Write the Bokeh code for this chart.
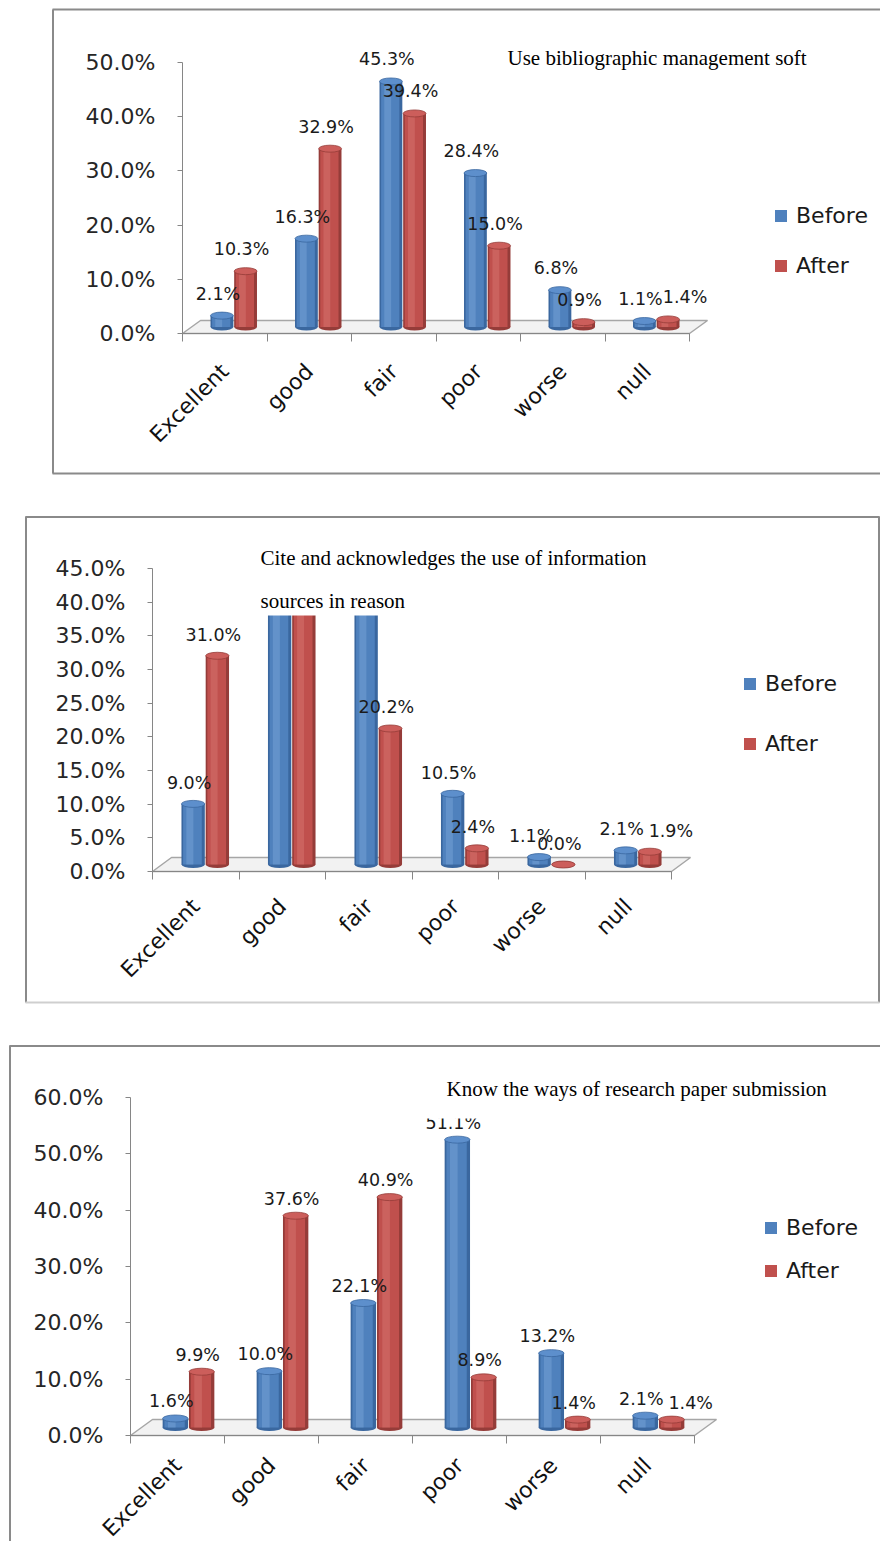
import math
from bokeh.plotting import figure
from bokeh.models import (Range1d, LinearAxis, FixedTicker, PrintfTickFormatter,
                          Legend, LegendItem, ColumnDataSource)
from bokeh.layouts import column
from bokeh.embed import file_html
from bokeh.resources import INLINE
from bokeh.core.properties import value

# ---------------- data ----------------
categories = ["Excellent", "good", "fair", "poor", "worse", "null"]
series_names = ["Before", "After"]

title1 = ["Use bibliographic management soft"]
before1 = [2.1, 16.3, 45.3, 28.4, 6.8, 1.1]
after1 = [10.3, 32.9, 39.4, 15.0, 0.9, 1.4]
yticks1 = [0, 10, 20, 30, 40, 50]

title2 = ["Cite and acknowledges the use of information", "sources in reason"]
before2 = [9.0, 39.2, 38.1, 10.5, 1.1, 2.1]
after2 = [31.0, 44.5, 20.2, 2.4, 0.0, 1.9]
yticks2 = [0, 5, 10, 15, 20, 25, 30, 35, 40, 45]

title3 = ["Know the ways of research paper submission"]
before3 = [1.6, 10.0, 22.1, 51.1, 13.2, 2.1]
after3 = [9.9, 37.6, 40.9, 8.9, 1.4, 1.4]
yticks3 = [0, 10, 20, 30, 40, 50, 60]

# ---------------- styling / layout ----------------
W = 880
BLUE = dict(dark="#3a679f", main="#4f81bd", light="#75a0d6", cap="#5d8fcc")
RED = dict(dark="#953c39", main="#c0504d", light="#d4716e", cap="#cc5e5b")
GREY = "#8a8a8a"
FONT = "DejaVu Sans"

G1 = dict(cv_top=0, cv_h=500, ax_x=182, y0=333, sy=5.42, cw=84.5, dx=18, dy=13,
          borders=[((52.5, 9), (52.5, 473), GREY), ((52, 9), (880, 9), GREY),
                   ((52, 473), (880, 473), GREY)],
          title_x=507, title_ys=[57], title_box=None, leg_x=773, leg_ys=[215, 265],
          lab_dy=22, xstand=26, nudge={(1, 5): 21})
G2 = dict(cv_top=500, cv_h=530, ax_x=152, y0=871, sy=6.733, cw=86.5, dx=19, dy=14,
          borders=[((25.5, 516), (25.5, 1002), GREY), ((25, 516.5), (879, 516.5), GREY),
                   ((878.5, 516), (878.5, 1002), GREY), ((25, 1002), (879, 1002), "#cfcfcf")],
          title_x=260, title_ys=[557, 600], title_box=(245, 528, 690, 615),
          leg_x=742, leg_ys=[683, 743], lab_dy=21, xstand=23,
          nudge={(1, 5): 25, (0, 4): -4})
G3 = dict(cv_top=1030, cv_h=511, ax_x=130, y0=1435, sy=5.633, cw=94, dx=22, dy=16,
          borders=[((9.5, 1045), (9.5, 1541), GREY), ((9, 1045.5), (880, 1045.5), GREY)],
          title_x=446, title_ys=[1088], title_box=(418, 1060, 850, 1118),
          leg_x=763, leg_ys=[1227, 1270], lab_dy=17, xstand=18, nudge={(1, 5): 23})


def build(g, before, after, yticks, title_lines):
    top_px = g["cv_top"]
    bot_px = g["cv_top"] + g["cv_h"]

    def X(px):
        return (px - g["ax_x"]) / g["cw"] - 0.5

    def Y(py):
        return (g["y0"] - py) / g["sy"]

    p = figure(width=W, height=g["cv_h"], x_range=Range1d(X(0), X(W)),
               y_range=Range1d(Y(bot_px), Y(top_px)), x_axis_type=None, y_axis_type=None,
               toolbar_location=None, output_backend="svg", min_border=0,
               outline_line_color=None, background_fill_color="white",
               border_fill_color="white")

    n = len(categories)
    ddx = g["dx"] / g["cw"]
    ddy = g["dy"] / g["sy"]

    # floor (3D base)
    p.patch([-0.5, n - 0.5, n - 0.5 + ddx, -0.5 + ddx], [0, 0, ddy, ddy],
            fill_color="#f2f2f2", line_color="#a6a6a6", line_width=1.5)

    bw = 0.27
    base = ddy / 2
    main_renderers = []
    label_sources = []
    for si, (vals, off, cols) in enumerate([(before, -0.14, BLUE), (after, 0.14, RED)]):
        xs = [i + off + ddx / 2 for i in range(n)]
        tops = [v + base for v in vals]
        src = ColumnDataSource(dict(
            x=xs, top=tops,
            xm=[x - 0.03 * bw for x in xs],
            xh=[x - 0.14 * bw for x in xs],
            lx=[x + (g["nudge"].get((si, i), 0) - 4) / g["cw"] for i, x in enumerate(xs)],
            ly=[t + g["lab_dy"] / g["sy"] for t in tops],
            lab=[f"{v:.1f}%" for v in vals]))
        p.ellipse(x="x", y=base, width=bw, height=7, height_units="screen", source=src,
                  fill_color=cols["dark"], line_color=None)
        p.vbar(x="x", top="top", bottom=base, width=bw, source=src,
               fill_color=cols["dark"], line_color=None)
        r = p.vbar(x="xm", top="top", bottom=base, width=0.8 * bw, source=src,
                   fill_color=cols["main"], line_color=None)
        p.vbar(x="xh", top="top", bottom=base, width=0.3 * bw, source=src,
               fill_color=cols["light"], fill_alpha=0.55, line_color=None)
        p.ellipse(x="x", y="top", width=bw, height=7, height_units="screen", source=src,
                  fill_color=cols["cap"], line_color=cols["dark"], line_width=0.8)
        main_renderers.append(r)
        label_sources.append(src)

    for src in label_sources:
        p.text(x="lx", y="ly", text="lab", source=src, text_font=value(FONT),
               text_font_size="17.5px", text_align="center", text_baseline="middle",
               text_color="#1a1a1a")

    # white title box (covers what is behind the title, as in the original)
    if g["title_box"] is not None:
        l, t, r_, b = g["title_box"]
        p.quad(left=X(l), right=X(r_), top=Y(t), bottom=Y(b), fill_color="white",
               line_color=None)
    p.text(x=[X(g["title_x"])] * len(title_lines), y=[Y(ty) for ty in g["title_ys"]],
           text=title_lines, text_font=value("Liberation Serif"), text_font_size="21px",
           text_align="left", text_baseline="middle", text_color="black")

    # panel frame lines
    for (a, b, c) in g["borders"]:
        p.segment(x0=X(a[0]), y0=Y(a[1]), x1=X(b[0]), y1=Y(b[1]), line_color=c,
                  line_width=2)

    # axes
    yaxis = LinearAxis(fixed_location=-0.5, bounds=(yticks[0], yticks[-1]),
                       ticker=FixedTicker(ticks=yticks, minor_ticks=[]),
                       formatter=PrintfTickFormatter(format="%.1f%%"))
    yaxis.axis_line_color = "#868686"
    yaxis.major_tick_line_color = "#868686"
    yaxis.major_tick_out = 5
    yaxis.major_tick_in = 0
    yaxis.minor_tick_out = 0
    yaxis.minor_tick_in = 0
    yaxis.major_label_standoff = 22
    yaxis.major_label_text_font = FONT
    yaxis.major_label_text_font_size = "22px"
    yaxis.major_label_text_color = "#262626"
    p.add_layout(yaxis, "left")

    xaxis = LinearAxis(fixed_location=0, bounds=(-0.5, n - 0.5),
                       ticker=FixedTicker(ticks=list(range(n)),
                                          minor_ticks=[i - 0.5 for i in range(n + 1)]),
                       major_label_overrides={i: c for i, c in enumerate(categories)})
    xaxis.axis_line_color = "#868686"
    xaxis.major_tick_out = 0
    xaxis.major_tick_in = 0
    xaxis.minor_tick_out = 8
    xaxis.minor_tick_in = 0
    xaxis.minor_tick_line_color = "#868686"
    xaxis.major_label_orientation = math.pi / 4
    xaxis.major_label_standoff = g["xstand"]
    xaxis.major_label_text_font = FONT
    xaxis.major_label_text_font_size = "22px"
    xaxis.major_label_text_color = "#111111"
    p.add_layout(xaxis, "below")

    # legend
    for name, r, cy in zip(series_names, main_renderers, g["leg_ys"]):
        leg = Legend(items=[LegendItem(label=name, renderers=[r])],
                     location=(g["leg_x"], bot_px - cy - 13),
                     padding=0, margin=0, border_line_color=None,
                     background_fill_alpha=0, glyph_width=15, glyph_height=15,
                     label_standoff=8, label_height=26, label_text_font=FONT,
                     label_text_font_size="22px", label_text_color="#1a1a1a",
                     label_text_baseline="middle")
        p.add_layout(leg)
    return p


p1 = build(G1, before1, after1, yticks1, title1)
p2 = build(G2, before2, after2, yticks2, title2)
p3 = build(G3, before3, after3, yticks3, title3)

p = column(p1, p2, p3, spacing=0)
open("out.html", "w").write(file_html(p, INLINE))
